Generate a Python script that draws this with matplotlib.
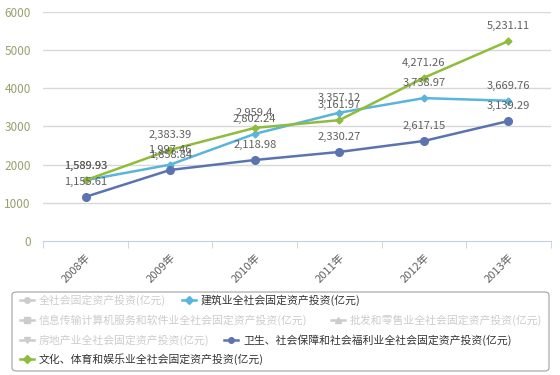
import matplotlib
matplotlib.use('Agg')
import matplotlib.pyplot as plt
from matplotlib.lines import Line2D
from matplotlib.patches import FancyBboxPatch

plt.rcParams['font.family'] = ['Noto Sans CJK SC', 'DejaVu Sans']

# data
years = ['2008年', '2009年', '2010年', '2011年', '2012年', '2013年']
construction = [1589.93, 1997.46, 2802.24, 3357.12, 3738.97, 3669.76]
welfare = [1155.61, 1858.84, 2118.98, 2330.27, 2617.15, 3139.29]
culture = [1589.93, 2383.39, 2959.4, 3161.97, 4271.26, 5231.11]
y_ticks = [0, 1000, 2000, 3000, 4000, 5000, 6000]

legend_rows = [
    [('全社会固定资产投资(亿元)', '#cccccc', 'o', False),
     ('建筑业全社会固定资产投资(亿元)', '#5ab4dc', 'D', True)],
    [('信息传输计算机服务和软件业全社会固定资产投资(亿元)', '#cccccc', 's', False),
     ('批发和零售业全社会固定资产投资(亿元)', '#cccccc', '^', False)],
    [('房地产业全社会固定资产投资(亿元)', '#cccccc', 'v', False),
     ('卫生、社会保障和社会福利业全社会固定资产投资(亿元)', '#5b74b0', 'o', True)],
    [('文化、体育和娱乐业全社会固定资产投资(亿元)', '#8fbc3a', 'D', True)],
]

W, H = 560, 375
fig = plt.figure(figsize=(W / 100, H / 100), dpi=100)
ax = fig.add_axes([43.3 / W, 1 - 241 / H, 507.4 / W, 229.3 / H])

x = list(range(len(years)))
series = [
    (construction, '#5ab4dc', 'D', 3.5),
    (welfare, '#5b74b0', 'o', 5.5),
    (culture, '#8fbc3a', 'D', 3.5),
]
for vals, col, mk, ms in series:
    ax.plot(x, vals, color=col, lw=1.8, marker=mk, ms=ms, zorder=3)
    for xi, v in zip(x, vals):
        txt = f'{v:,.2f}'
        if txt.endswith('0'):
            txt = txt[:-1]
        ax.annotate(txt, (xi, v), xytext=(0, 7), textcoords='offset points',
                    ha='center', va='bottom', fontsize=8, color='#606060',
                    zorder=4)

ax.set_xlim(-0.5, len(years) - 0.5)
ax.set_ylim(0, 6000)
ax.set_yticks(y_ticks)
ax.set_yticklabels([str(t) for t in y_ticks])
for t in y_ticks[1:]:
    ax.axhline(t, color='#d8d8d8', lw=1, zorder=1)

ax.set_xticks(x)
ax.set_xticklabels(years, rotation=45, ha='right', rotation_mode='anchor')
ax.set_xticks([i - 0.5 for i in range(len(years) + 1)], minor=True)
ax.tick_params(axis='x', which='major', length=0, pad=8, labelsize=8,
               labelcolor='#606060')
ax.tick_params(axis='x', which='minor', length=5, color='#c0d0e0')
ax.tick_params(axis='y', length=0, pad=9, labelsize=8.5, labelcolor='#9a9f6e')

for s in ['top', 'right', 'left']:
    ax.spines[s].set_visible(False)
ax.spines['bottom'].set_color('#c0d0e0')

# legend box, drawn by hand to get the flowing layout
box = FancyBboxPatch((12 / W, 1 - 371 / H), 537 / W, 79 / H,
                     boxstyle='round,pad=0,rounding_size=0.008',
                     transform=fig.transFigure, fc='white', ec='#a0a0a0',
                     lw=0.8)
fig.add_artist(box)

row_y = [300, 320, 340, 359]
item_x = [[20, 182], [20, 331], [20, 224], [20]]
for ry, xs, row in zip(row_y, item_x, legend_rows):
    for lx, (label, col, mk, on) in zip(xs, row):
        yy = 1 - ry / H
        fig.add_artist(Line2D([lx / W, (lx + 14) / W], [yy, yy], color=col,
                              lw=1.8, transform=fig.transFigure))
        fig.add_artist(Line2D([(lx + 7) / W], [yy], color=col, marker=mk,
                              ms=4, transform=fig.transFigure))
        fig.text((lx + 19) / W, yy, label, fontsize=7.8, va='center',
                 color='#333333' if on else '#cccccc')

fig.savefig('out.png', dpi=100)
